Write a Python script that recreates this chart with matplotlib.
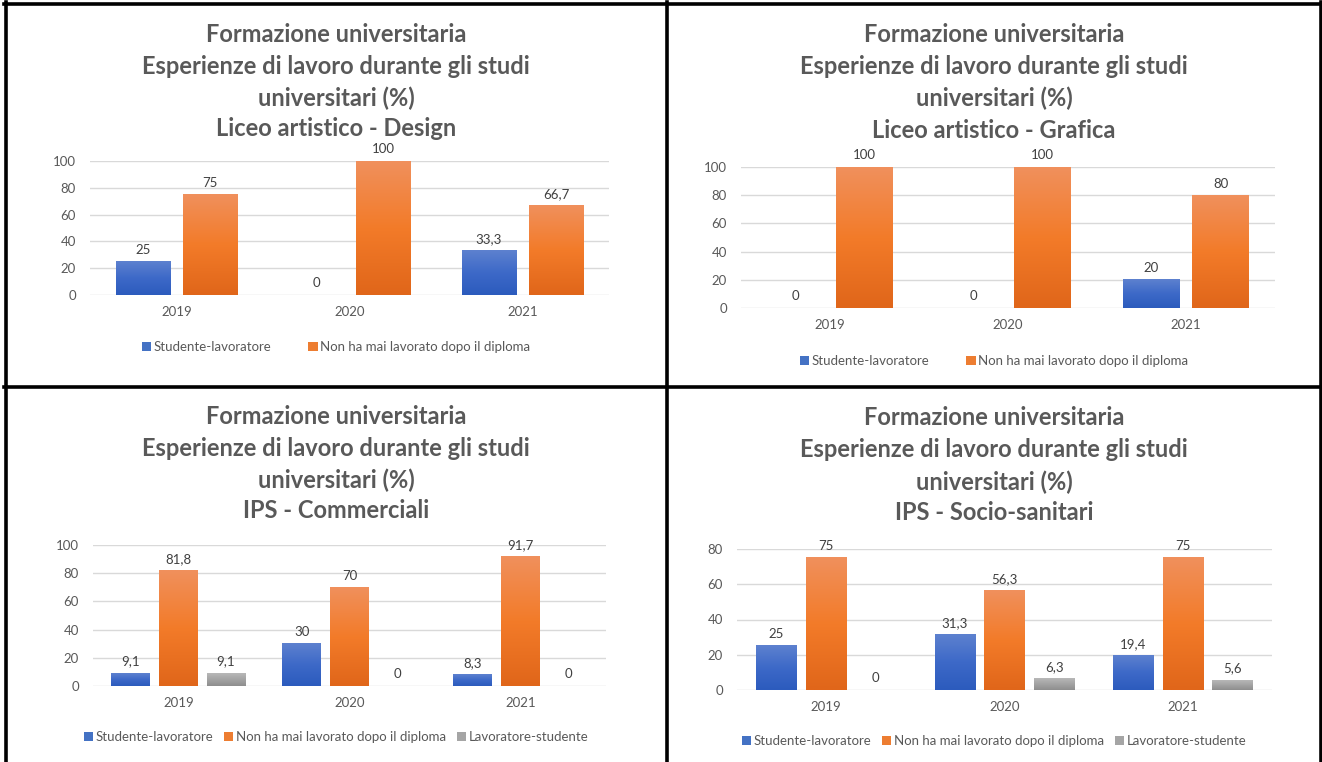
import numpy as np
from matplotlib import pyplot as plt
from matplotlib.colors import LinearSegmentedColormap
from matplotlib.lines import Line2D

plt.rcParams['font.family'] = ['Lato', 'DejaVu Sans']

anni = ['2019', '2020', '2021']
serie = ['Studente-lavoratore', 'Non ha mai lavorato dopo il diploma', 'Lavoratore-studente']

design_studente = [25, 0, 33.3]
design_mai = [75, 100, 66.7]
grafica_studente = [0, 0, 20]
grafica_mai = [100, 100, 80]
commerciali_studente = [9.1, 30, 8.3]
commerciali_mai = [81.8, 70, 91.7]
commerciali_lavoratore = [9.1, 0, 0]
socio_studente = [25, 31.3, 19.4]
socio_mai = [75, 56.3, 75]
socio_lavoratore = [0, 6.3, 5.6]

titolo = ['Formazione universitaria', 'Esperienze di lavoro durante gli studi', 'universitari (%)']
indirizzi = ['Liceo artistico - Design', 'Liceo artistico - Grafica', 'IPS - Commerciali', 'IPS - Socio-sanitari']

colori = ['#4472c4', '#ed7d31', '#a5a5a5']
sfumature = [['#2c5bbd', '#3d69c8', '#5d81cf'],
             ['#e0661a', '#f37b29', '#f0905c'],
             ['#8e8e8e', '#a3a3a3', '#b8b8b8']]

W, H = 1322, 762
GRIGIO = '#595959'


def fx(x):
    return x / W


def fy(y):
    return 1 - y / H


def etichetta(v):
    if v == int(v):
        return str(int(v))
    return str(v).replace('.', ',')


def barre_sfumate(ax, barre, stops):
    cmap = LinearSegmentedColormap.from_list('g', stops)
    grad = np.linspace(0, 1, 100).reshape(-1, 1)
    for b in barre:
        h = b.get_height()
        if h <= 0:
            continue
        x0 = b.get_x()
        ax.imshow(grad, extent=(x0, x0 + b.get_width(), 0, h), origin='lower',
                  cmap=cmap, aspect='auto', zorder=3, interpolation='bilinear')


def pannello(fig, nome, valori, ymax, box, titoli_y, legenda_y, centro, colspace):
    sx, top, dx, base = box
    ax = fig.add_axes([fx(sx), fy(base), (dx - sx) / W, (base - top) / H])
    n = len(valori)
    if n == 2:
        larg, passo = 0.315, 0.388
    else:
        larg, passo = 0.228, 0.278
    x = np.arange(len(anni))
    maniglie = []
    for i, vals in enumerate(valori):
        pos = x + (i - (n - 1) / 2) * passo
        barre = ax.bar(pos, vals, larg, color=colori[i], zorder=2, label=serie[i])
        barre_sfumate(ax, barre, sfumature[i])
        maniglie.append(barre)
        for p, v in zip(pos, vals):
            ax.annotate(etichetta(v), (p, v), xytext=(0, 4), textcoords='offset points',
                        ha='center', va='bottom', fontsize=9.5, color='#404040',
                        annotation_clip=False)
    ax.set_xlim(-0.5, 2.5)
    ax.set_ylim(0, ymax)
    ax.set_yticks(range(0, ymax + 1, 20))
    ax.set_xticks(x)
    ax.set_xticklabels(anni)
    ax.tick_params(length=0, labelsize=9.5, labelcolor=GRIGIO)
    ax.tick_params(axis='x', pad=8)
    ax.tick_params(axis='y', pad=10)
    ax.grid(axis='y', color='#d9d9d9', linewidth=1)
    ax.set_axisbelow(True)
    for s in ax.spines.values():
        s.set_visible(False)

    righe = titolo + [nome]
    for r, yy in zip(righe, titoli_y):
        fig.text(fx(centro), fy(yy), r, ha='center', va='center', fontsize=17,
                 fontweight='bold', color=GRIGIO)

    fig.legend(handles=maniglie, loc='center', bbox_to_anchor=(fx(centro), fy(legenda_y)),
               ncol=n, frameon=False, fontsize=9.5, labelcolor=GRIGIO,
               handlelength=0.7, handleheight=0.7, handletextpad=0.2, columnspacing=colspace)
    return ax


fig = plt.figure(figsize=(W / 100, H / 100), dpi=100)

pannello(fig, indirizzi[0], [design_studente, design_mai], 100,
         (90, 161, 609, 295), [34, 67, 98, 128], 347, 336, 2.8)
pannello(fig, indirizzi[1], [grafica_studente, grafica_mai], 100,
         (741, 167, 1275, 308), [34, 67, 98, 131], 361, 994, 2.8)
pannello(fig, indirizzi[2], [commerciali_studente, commerciali_mai, commerciali_lavoratore], 100,
         (93, 545, 606, 686), [417, 449, 480, 510], 737, 336, 0.8)
pannello(fig, indirizzi[3], [socio_studente, socio_mai, socio_lavoratore], 80,
         (737, 549, 1272, 690), [418, 450, 482, 513], 741, 994, 0.8)

# bordi della tabella
bordi = [((4, 1322), (3.5, 3.5)), ((5.5, 5.5), (2, 762)), ((666.5, 666.5), (2, 762)),
         ((4, 1322), (387.5, 387.5)), ((1320.5, 1320.5), (2, 762))]
for xs, ys in bordi:
    fig.add_artist(Line2D([fx(v) for v in xs], [fy(v) for v in ys], color='black',
                          linewidth=2.6, transform=fig.transFigure))

fig.savefig('out.png', dpi=100)
